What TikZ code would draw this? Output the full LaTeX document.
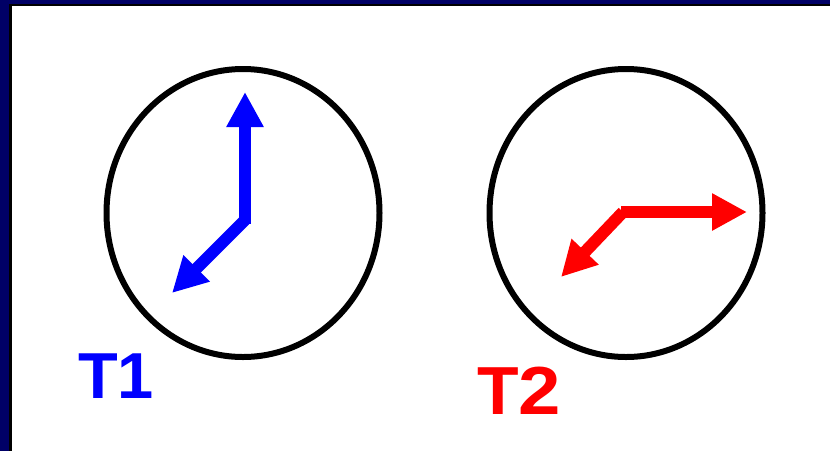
\documentclass[tikz,border=0pt]{standalone}
\usepackage{fontspec}
\setmainfont{Liberation Sans}
\usetikzlibrary{arrows.meta, shapes.geometric}
\definecolor{frameNavy}{HTML}{000066}
\definecolor{handBlue}{HTML}{0000FF}
\definecolor{handRed}{HTML}{FF0000}

\begin{document}
\begin{tikzpicture}[
    x=1pt, y=-1pt,
    clockface/.style={ellipse, draw=black, line width=6pt,
                 minimum width=273pt, minimum height=288pt, inner sep=0pt},
    hand/.style={line width=12pt, line join=miter,
                 -{Triangle[length=35pt, width=35pt]}},
    tag/.style={font=\fontsize{65}{65}\selectfont\bfseries, inner sep=0pt},
  ]
    % frame
    \fill[frameNavy] (0,0) rectangle (830,451);
    \fill[black] (9,4) rectangle (830,451);
    \fill[white] (12,6) rectangle (830,451);
    \useasboundingbox (0,0) rectangle (830,451);

    \node[clockface] (c1) at (243,213) {};
    \node[clockface] (c2) at (626,213) {};

    \coordinate (h1) at (245,224);
    \coordinate (h2) at (621,212);
    \coordinate (t1a) at (245,92);
    \coordinate (t1b) at (172,293);
    \coordinate (t2a) at (747,212);
    \coordinate (t2b) at (561,277);

    \draw[hand, handBlue] (h1) -- (t1a);
    \draw[hand, handBlue] ([yshift=4pt]h1) -- (t1b);
    \draw[hand, handRed] (h2) -- (t2a);
    \draw[hand, handRed] ([xshift=2pt]h2) -- (t2b);

    \node[tag, text=handBlue, anchor=base west] (l1) at (78,398) {T1};
    \node[tag, text=handRed, anchor=base west,
          font=\fontsize{68}{68}\selectfont\bfseries] (l2) at (477,414) {T\scalebox{1.12}[1]{2}};
  \end{tikzpicture}
\end{document}
